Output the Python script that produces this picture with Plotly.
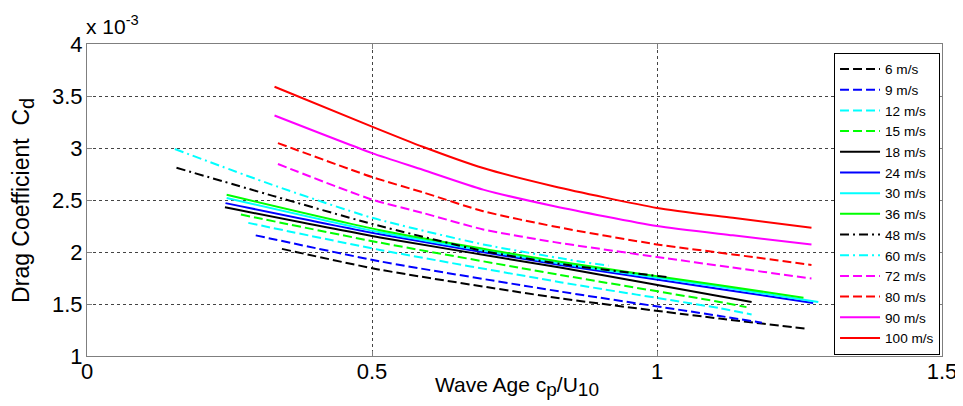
import plotly.graph_objects as go

# Wind speed series: wave age (x) and drag coefficient (x 1e-3)
labels = ["6 m/s", "9 m/s", "12 m/s", "15 m/s", "18 m/s", "24 m/s", "30 m/s",
          "36 m/s", "48 m/s", "60 m/s", "72 m/s", "80 m/s", "90 m/s", "100 m/s"]
colors = ["#000000", "#0000FF", "#00FFFF", "#00FF00", "#000000", "#0000FF", "#00FFFF",
          "#00FF00", "#000000", "#00FFFF", "#FF00FF", "#FF0000", "#FF00FF", "#FF0000"]
styles = ["dash", "dash", "dash", "dash", "solid", "solid", "solid",
          "solid", "dashdot", "dashdot", "dash", "dash", "solid", "solid"]

x_6 = [0.342, 0.514, 0.83, 1.11, 1.265]
y_6 = [2.03, 1.83, 1.555, 1.36, 1.26]
x_9 = [0.296, 0.514, 0.83, 1.11, 1.184]
y_9 = [2.16, 1.91, 1.62, 1.385, 1.32]
x_12 = [0.283, 0.514, 0.83, 1.11, 1.166]
y_12 = [2.28, 2.02, 1.71, 1.46, 1.40]
x_15 = [0.27, 0.514, 0.83, 1.11, 1.157]
y_15 = [2.36, 2.09, 1.78, 1.52, 1.47]
x_18 = [0.242, 0.514, 0.83, 1.11, 1.166]
y_18 = [2.43, 2.14, 1.85, 1.575, 1.52]
x_24 = [0.243, 0.514, 0.83, 1.11, 1.274]
y_24 = [2.47, 2.17, 1.875, 1.645, 1.51]
x_30 = [0.245, 0.514, 0.83, 1.11, 1.283]
y_30 = [2.52, 2.19, 1.89, 1.665, 1.52]
x_36 = [0.245, 0.514, 0.83, 1.11, 1.257]
y_36 = [2.55, 2.21, 1.906, 1.68, 1.56]
x_48 = [0.157, 0.326, 0.5, 0.695, 0.85, 1.017]
y_48 = [2.81, 2.54, 2.27, 2.01, 1.87, 1.76]
x_60 = [0.154, 0.324, 0.5, 0.695, 0.87, 0.915]
y_60 = [2.99, 2.648, 2.329, 2.073, 1.904, 1.87]
x_72 = [0.335, 0.5, 0.589, 0.695, 0.82, 1.0, 1.133, 1.271]
y_72 = [2.846, 2.504, 2.376, 2.217, 2.095, 1.952, 1.85, 1.745]
x_80 = [0.335, 0.5, 0.589, 0.695, 0.82, 1.0, 1.133, 1.271]
y_80 = [3.047, 2.721, 2.574, 2.392, 2.245, 2.073, 1.977, 1.875]
x_90 = [0.329, 0.5, 0.589, 0.695, 0.82, 1.0, 1.133, 1.271]
y_90 = [3.312, 2.951, 2.791, 2.60, 2.44, 2.249, 2.16, 2.073]
x_100 = [0.329, 0.5, 0.589, 0.695, 0.82, 1.0, 1.133, 1.271]
y_100 = [3.589, 3.206, 3.012, 2.807, 2.63, 2.424, 2.329, 2.233]

xs = [x_6, x_9, x_12, x_15, x_18, x_24, x_30, x_36, x_48, x_60, x_72, x_80, x_90, x_100]
ys = [y_6, y_9, y_12, y_15, y_18, y_24, y_30, y_36, y_48, y_60, y_72, y_80, y_90, y_100]

x_ticks = [0, 0.5, 1, 1.5]
x_ticktext = ["0", "0.5", "1", "1.5"]
y_ticks = [1, 1.5, 2, 2.5, 3, 3.5, 4]
y_ticktext = ["1", "1.5", "2", "2.5", "3", "3.5", "4"]

dash_map = {"dash": "9px,4px", "dashdot": "9px,4px,2px,4px", "solid": "solid"}

fig = go.Figure()
for lab, c, d, x, y in zip(labels, colors, styles, xs, ys):
    fig.add_trace(go.Scatter(x=x, y=y, mode="lines", name=lab,
                             line=dict(color=c, dash=dash_map[d], width=2,
                                       shape="spline", smoothing=0.6)))

font = "Liberation Sans, Arial, sans-serif"
axis_common = dict(showline=True, linecolor="#7f7f7f", linewidth=1, mirror="ticks",
                   ticks="inside", ticklen=5, tickcolor="#7f7f7f",
                   showgrid=True, gridcolor="#444444", griddash="dot", gridwidth=1,
                   zeroline=False, automargin=False,
                   tickfont=dict(family=font, size=22, color="black"))

# the page body adds an 8px offset, so the figure is sized 8px smaller
fig.update_layout(
    width=955, height=398,
    margin=dict(l=79, r=21, t=36, b=50),
    paper_bgcolor="white", plot_bgcolor="white",
    font=dict(family=font, color="black"),
    xaxis=dict(range=[0, 1.5], tickvals=x_ticks, ticktext=x_ticktext,
               ticklabelstandoff=-4, **axis_common),
    yaxis=dict(range=[1, 4], tickvals=y_ticks, ticktext=y_ticktext,
               ticklabelstandoff=-1, **axis_common),
    legend=dict(x=0.9977, xanchor="right", y=0.972, yanchor="top",
                bgcolor="white", bordercolor="black", borderwidth=1,
                font=dict(family=font, size=13.6), tracegroupgap=0,
                itemwidth=40),
    showlegend=True,
    annotations=[
        dict(text="x 10<sup>-3</sup>", xref="paper", yref="paper",
             x=0, y=1.0, xanchor="left", yanchor="bottom", xshift=-3, yshift=4,
             showarrow=False, font=dict(family=font, size=21)),
        dict(text="Wave Age c<sub><span style='font-size:19px'>p</span></sub>/U"
                  "<sub><span style='font-size:19px'>10</span></sub>",
             xref="paper", yref="paper", x=0.503, y=-0.048,
             xanchor="center", yanchor="top", showarrow=False,
             font=dict(family=font, size=21)),
        dict(text="Drag Coefficient  C<sub><span style='font-size:20px'>d</span></sub>",
             xref="paper", yref="paper", x=-0.075, y=0.5, xanchor="center",
             yanchor="middle", textangle=-90, showarrow=False,
             font=dict(family=font, size=23)),
    ],
)

fig.write_html("out.html", config={"displayModeBar": False})
